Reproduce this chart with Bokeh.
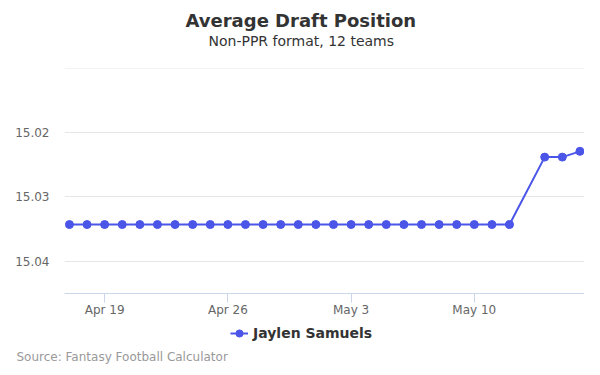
from datetime import datetime
from bokeh.plotting import figure
from bokeh.layouts import column
from bokeh.models import (Range1d, FixedTicker, Span, Title, Label, Legend, LegendItem,
                          NumeralTickFormatter)
from bokeh.embed import file_html
from bokeh.resources import INLINE

# ---- data ----
dates = ["2019-04-17", "2019-04-18", "2019-04-19", "2019-04-20", "2019-04-21",
         "2019-04-22", "2019-04-23", "2019-04-24", "2019-04-25", "2019-04-26",
         "2019-04-27", "2019-04-28", "2019-04-29", "2019-04-30", "2019-05-01",
         "2019-05-02", "2019-05-03", "2019-05-04", "2019-05-05", "2019-05-06",
         "2019-05-07", "2019-05-08", "2019-05-09", "2019-05-10", "2019-05-11",
         "2019-05-12", "2019-05-14", "2019-05-15", "2019-05-16"]
adp = [15.0343] * 26 + [15.0238, 15.0238, 15.0229]
series_name = "Jaylen Samuels"
x_tick_dates = ["2019-04-19", "2019-04-26", "2019-05-03", "2019-05-10"]
x_tick_labels = ["Apr 19", "Apr 26", "May 3", "May 10"]
y_ticks = [15.02, 15.03, 15.04]
title_text = "Average Draft Position"
subtitle_text = "Non-PPR format, 12 teams"
source_text = "Source: Fantasy Football Calculator"

FONT = "DejaVu Sans"
COLOR = "#4b55e8"
DAY = 86400000

def ms(d):
    return datetime.strptime(d, "%Y-%m-%d").timestamp() * 1000

xs = [datetime.strptime(d, "%Y-%m-%d") for d in dates]
tick_ms = [ms(d) for d in x_tick_dates]
x_start = ms("2019-04-16") + 0.72 * DAY
x_end = ms("2019-05-16") + 0.26 * DAY

# ---- main chart ----
p = figure(width=584, height=319, x_axis_type="datetime", title=None,
           output_backend="svg", toolbar_location=None,
           x_range=Range1d(x_start, x_end), y_range=Range1d(15.04504, 15.01))
p.min_border_left = 64
p.min_border_right = 0
p.min_border_top = 68
p.min_border_bottom = 25
p.outline_line_color = None
p.background_fill_color = "white"

r_line = p.line(xs, adp, line_color=COLOR, line_width=2)
r_pts = p.scatter(xs, adp, size=8, fill_color=COLOR, line_color=COLOR)

xa = p.xaxis[0]
xa.ticker = FixedTicker(ticks=tick_ms)
xa.major_label_overrides = {int(t): lab for t, lab in zip(tick_ms, x_tick_labels)}
xa.axis_line_color = "#ccd6eb"
xa.major_tick_line_color = "#ccd6eb"
xa.major_tick_out = 9
xa.major_tick_in = 0
xa.minor_tick_line_color = None
xa.major_label_standoff = 0
xa.major_label_text_font = FONT
xa.major_label_text_font_size = "12px"
xa.major_label_text_color = "#666666"

ya = p.yaxis[0]
ya.ticker = FixedTicker(ticks=y_ticks)
ya.formatter = NumeralTickFormatter(format="0.00")
ya.axis_line_color = None
ya.major_tick_line_color = None
ya.minor_tick_line_color = None
ya.major_tick_out = 0
ya.major_tick_in = 0
ya.major_label_standoff = 15
ya.major_label_text_font = FONT
ya.major_label_text_font_size = "12px"
ya.major_label_text_color = "#666666"

p.xgrid.grid_line_color = None
p.ygrid.grid_line_color = "#e6e6e6"
p.ygrid.grid_line_width = 1
p.add_layout(Span(location=15.01, dimension="width", line_color="#e6e6e6", line_width=1))

# titles (above): spacer, subtitle, title — stacked outward from the frame
p.add_layout(Title(text=" ", text_font_size="1px", standoff=16), "above")
p.add_layout(Title(text=subtitle_text, align="left", offset=144, standoff=0,
                   vertical_align="middle", text_font=FONT, text_font_size="14px",
                   text_font_style="normal", text_color="#333333"), "above")
p.add_layout(Title(text=title_text, align="left", offset=121, standoff=0,
                   vertical_align="middle", text_font=FONT, text_font_size="18px",
                   text_font_style="bold", text_color="#333333"), "above")

# ---- footer strip: legend + source ----
f = figure(width=584, height=48, output_backend="svg", toolbar_location=None,
           x_axis_location=None, y_axis_location=None,
           x_range=Range1d(0, 584), y_range=Range1d(0, 48))
f.min_border_left = 0
f.min_border_right = 0
f.min_border_top = 0
f.min_border_bottom = 0
f.outline_line_color = None
f.xgrid.grid_line_color = None
f.ygrid.grid_line_color = None

left0 = 0
if hasattr(f, "frame_align"):
    p.frame_align = False
    f.frame_align = False
else:
    left0 = 64

# legend swatch renderers (same series, lying outside this strip's visible range)
lg_line = f.line(tick_ms[:1] * 2, y_ticks[:2], line_color=COLOR, line_width=2)
lg_pts = f.scatter(tick_ms[:1], y_ticks[:1], size=8, fill_color=COLOR, line_color=COLOR)
legend = Legend(items=[LegendItem(label=series_name, renderers=[lg_line, lg_pts])],
                location=(230 - left0, 24), orientation="horizontal",
                border_line_color=None, background_fill_alpha=0,
                padding=0, margin=0, glyph_width=18, glyph_height=20, label_height=20,
                label_standoff=5, label_text_font=FONT, label_text_font_size="14px",
                label_text_font_style="bold", label_text_color="#333333")
f.add_layout(legend, "center")

f.add_layout(Label(x=16 - left0, y=11, x_units="screen", y_units="screen", text=source_text,
                   text_align="left", text_baseline="middle", text_font=FONT,
                   text_font_size="12px", text_color="#999999"))

open("out.html", "w").write(file_html(column(p, f, spacing=0), INLINE))
